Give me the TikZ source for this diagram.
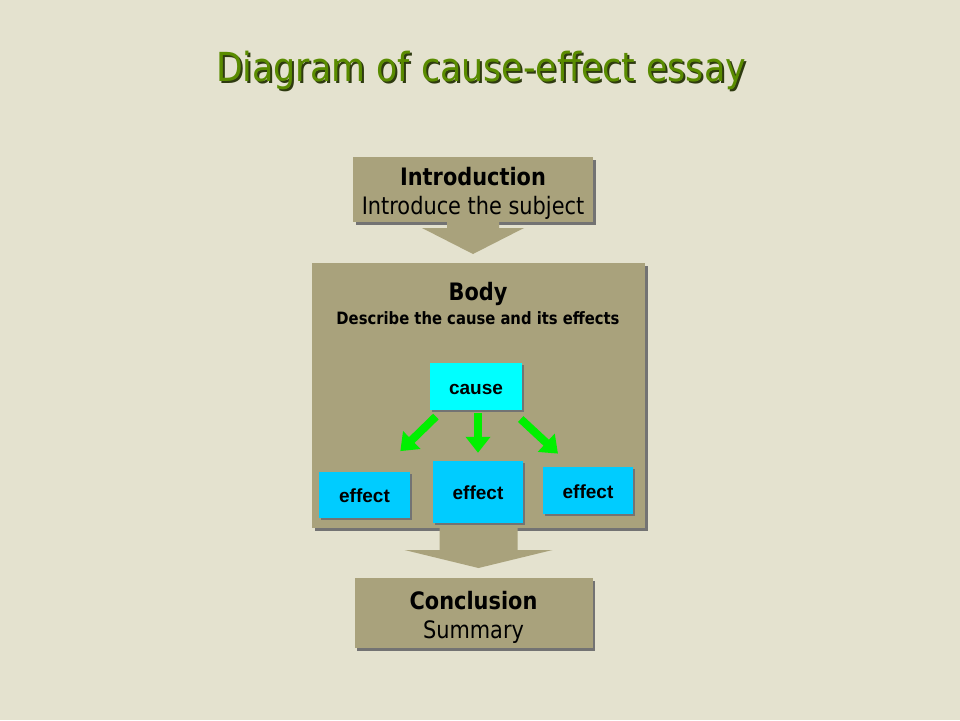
\documentclass[tikz,border=0pt]{standalone}
\usepackage{fontspec}
\setmainfont{DejaVu Sans}[FakeStretch=0.87]
\newfontfamily\arialfont{Liberation Sans}
\usetikzlibrary{positioning,shadows,arrows.meta}
\definecolor{bgcol}{HTML}{E4E2CF}
\definecolor{khaki}{HTML}{A9A27C}
\definecolor{titlegreen}{HTML}{5A8C00}
\definecolor{titleshade}{HTML}{2E3A10}
\definecolor{causecol}{HTML}{00FFFF}
\definecolor{effectcol}{HTML}{00CCFF}
\definecolor{arrgreen}{HTML}{00F000}

\begin{document}
\begin{tikzpicture}[x=1pt,y=-1pt,>=latex]
\tikzstyle{block} = [fill=khaki, inner sep=0pt, drop shadow={shadow xshift=2.5pt, shadow yshift=-2.5pt, fill=black!55, opacity=1}]
\tikzstyle{blocktext} = [align=center, font=\fontsize{24}{29}\selectfont]
\tikzstyle{cbox} = [inner sep=0pt, text height=17pt, text depth=2pt, font=\arialfont\bfseries\fontsize{19}{22}\selectfont, drop shadow={shadow xshift=1.5pt, shadow yshift=-1.5pt, fill=black!55, opacity=1}]
\tikzstyle{garrow} = [draw=arrgreen, line width=8pt, -{Triangle[length=16pt,width=24pt]}]

\def\blockarrow#1#2#3#4#5{
\fill[khaki] ([xshift=-#3]#1) -- ([xshift=-#3,yshift=#5]#2) -- ([xshift=-#4,yshift=#5]#2) -- (#2)
  -- ([xshift=#4,yshift=#5]#2) -- ([xshift=#3,yshift=#5]#2) -- ([xshift=#3]#1) -- cycle;
}

    \fill[bgcol] (0,0) rectangle (960,720);
    \useasboundingbox (0,0) rectangle (960,720);

    % title with its shadow
    \node[text=titleshade, font=\fontsize{40}{48}\selectfont] (titleshadow) at (483,72) {Diagram of cause-effect essay};
    \node[text=titlegreen, font=\fontsize{40}{48}\selectfont] (title) at (481,70) {Diagram of cause-effect essay};

    % the three parts of the essay
    \node [block, minimum width=240, minimum height=65] (intro) at (473,189.5) {};
    \node [blocktext] (introtext) at ([yshift=-4]intro.center) {\textbf{Introduction}\\Introduce the subject};
    \node [block, minimum width=333, minimum height=265] (body) at (478.5,395.5) {};
    \node [font=\bfseries\fontsize{24}{29}\selectfont] (bodyttl) at (478,294) {Body};
    \node [font=\bfseries\fontsize{17}{20}\selectfont] (bodysub) at (478,318) {Describe the cause and its effects};
    \node [block, minimum width=238, minimum height=70] (concl) at (473.5,613) {};
    \node [blocktext] (concltext) at ([yshift=-4]concl.center) {\textbf{Conclusion}\\Summary};

    % cause and effects
    \node [cbox, fill=causecol, minimum width=92, minimum height=47] (cause) at (476,386.5) {cause};
    \node [cbox, fill=effectcol, minimum width=91, minimum height=46] (effL) at (364.5,495) {effect};
    \node [cbox, fill=effectcol, minimum width=90, minimum height=62] (effM) at (478,492) {effect};
    \node [cbox, fill=effectcol, minimum width=90, minimum height=47] (effR) at (588,490.5) {effect};

    \draw [garrow, shorten <=56pt, shorten >=50pt] ([yshift=9]cause.center) -- ([yshift=9]effL.center);
    \draw [garrow, shorten <=3pt, shorten >=8pt] (cause.south -| effM) -- (effM.north);
    \draw [garrow, shorten <=61pt, shorten >=41pt] ([yshift=9]cause.center) -- ([yshift=9]effR.center);

    % big arrows between the parts
    \coordinate (tipA) at (473,254);
    \coordinate (tipB) at (478.5,568);
    \blockarrow{intro.south}{tipA}{26}{51}{26}
    \blockarrow{body.south}{tipB}{39}{74}{18}

\end{tikzpicture}
\end{document}
